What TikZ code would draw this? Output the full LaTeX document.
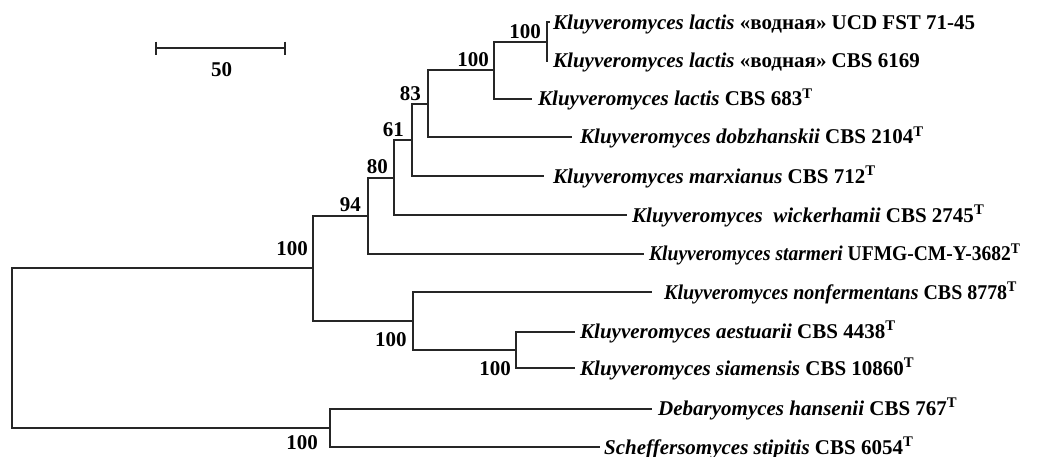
\documentclass[tikz,border=0pt]{standalone}
\usepackage{fontspec}
\setmainfont{Liberation Serif}
\begin{document}
\begin{tikzpicture}[x=1pt,y=-1pt,
  br/.style={line width=2pt, draw=black!85},
  leaf/.style={anchor=west, inner xsep=#1, inner ysep=0pt, text height=14pt, text depth=0pt,
    font=\fontsize{21}{25}\selectfont\bfseries},
  leaf/.default=4pt,
  bs/.style={anchor=east, inner sep=0pt, text height=14pt, text depth=0pt,
    font=\fontsize{21}{25}\selectfont\bfseries}]
\useasboundingbox (0,0) rectangle (1061,457);
% leaves
\node[leaf=3pt] (l1) at (550,22.5) {\textit{Kluyveromyces lactis} «водная» UCD FST 71-45};
\node[leaf=6pt] (l2) at (547,61) {\textit{Kluyveromyces lactis} «водная» CBS 6169};
\node[leaf=6pt] (l3) at (532,99) {\textit{Kluyveromyces lactis} CBS 683\textsuperscript{T}};
\node[leaf=8pt] (l4) at (572,137) {\textit{Kluyveromyces dobzhanskii} CBS 2104\textsuperscript{T}};
\node[leaf=9pt] (l5) at (544,176.5) {\textit{Kluyveromyces marxianus} CBS 712\textsuperscript{T}};
\node[leaf=5pt] (l6) at (627,215.5) {\textit{Kluyveromyces\ \ wickerhamii} CBS 2745\textsuperscript{T}};
\node[leaf=5pt] (l7) at (644,254) {\scalebox{0.93}[1]{\textit{Kluyveromyces starmeri} UFMG-CM-Y-3682\textsuperscript{T}}};
\node[leaf=12pt] (l8) at (652,292.5) {\scalebox{0.95}[1]{\textit{Kluyveromyces nonfermentans} CBS 8778\textsuperscript{T}}};
\node[leaf=5pt] (l9) at (575,331.5) {\textit{Kluyveromyces aestuarii} CBS 4438\textsuperscript{T}};
\node[leaf=5pt] (l10) at (575,368) {\textit{Kluyveromyces siamensis} CBS 10860\textsuperscript{T}};
\node[leaf=6pt] (l11) at (652,408.5) {\textit{Debaryomyces hansenii} CBS 767\textsuperscript{T}};
\node[leaf=4pt] (l12) at (600,447) {\textit{Scheffersomyces stipitis} CBS 6054\textsuperscript{T}};
% internal nodes
\coordinate (n1) at (546.5,41.75);
\coordinate (n2) at (494,70.4);
\coordinate (n3) at (428.3,103.7);
\coordinate (n4) at (411.7,140.1);
\coordinate (n5) at (394.3,177.8);
\coordinate (n6) at (367.7,215.9);
\coordinate (n7) at (516,349.75);
\coordinate (n8) at (412.7,321.1);
\coordinate (n9) at (313.3,268.5);
\coordinate (n10) at (330,427.75);
\coordinate (root) at (12.3,348.1);
% branches
\draw[br] (n1) |- (l1.west);
\draw[br] (n1) |- (l2.west);
\draw[br] (n2) |- (n1);
\draw[br] (n2) |- (l3.west);
\draw[br] (n3) |- (n2);
\draw[br] (n3) |- (l4.west);
\draw[br] (n4) |- (n3);
\draw[br] (n4) |- (l5.west);
\draw[br] (n5) |- (n4);
\draw[br] (n5) |- (l6.west);
\draw[br] (n6) |- (n5);
\draw[br] (n6) |- (l7.west);
\draw[br] (n7) |- (l9.west);
\draw[br] (n7) |- (l10.west);
\draw[br] (n8) |- (l8.west);
\draw[br] (n8) |- (n7);
\draw[br] (n9) |- (n6);
\draw[br] (n9) |- (n8);
\draw[br] (n10) |- (l11.west);
\draw[br] (n10) |- (l12.west);
\draw[br] (root) |- (n9);
\draw[br] (root) |- (n10);
% bootstrap values
\node[bs] (b1) at (541,31.5) {100};
\node[bs] (b2) at (489,60) {100};
\node[bs] (b3) at (421,94) {83};
\node[bs] (b4) at (404,130) {61};
\node[bs] (b5) at (388,167) {80};
\node[bs] (b6) at (361,205) {94};
\node[bs] (b7) at (308,249) {100};
\node[bs] (b8) at (406.7,339) {100};
\node[bs] (b9) at (511,368) {100};
\node[bs] (b10) at (318,442) {100};
% scale bar
\coordinate (sbL) at (156,48.3);
\coordinate (sbR) at (285,48.3);
\draw[br] (sbL) -- (sbR);
\draw[br] ([yshift=6.6pt]sbL) -- ([yshift=-6.6pt]sbL);
\draw[br] ([yshift=6.6pt]sbR) -- ([yshift=-6.6pt]sbR);
\node[bs, anchor=center] (sblab) at (221.5,70) {50};
\end{tikzpicture}
\end{document}
